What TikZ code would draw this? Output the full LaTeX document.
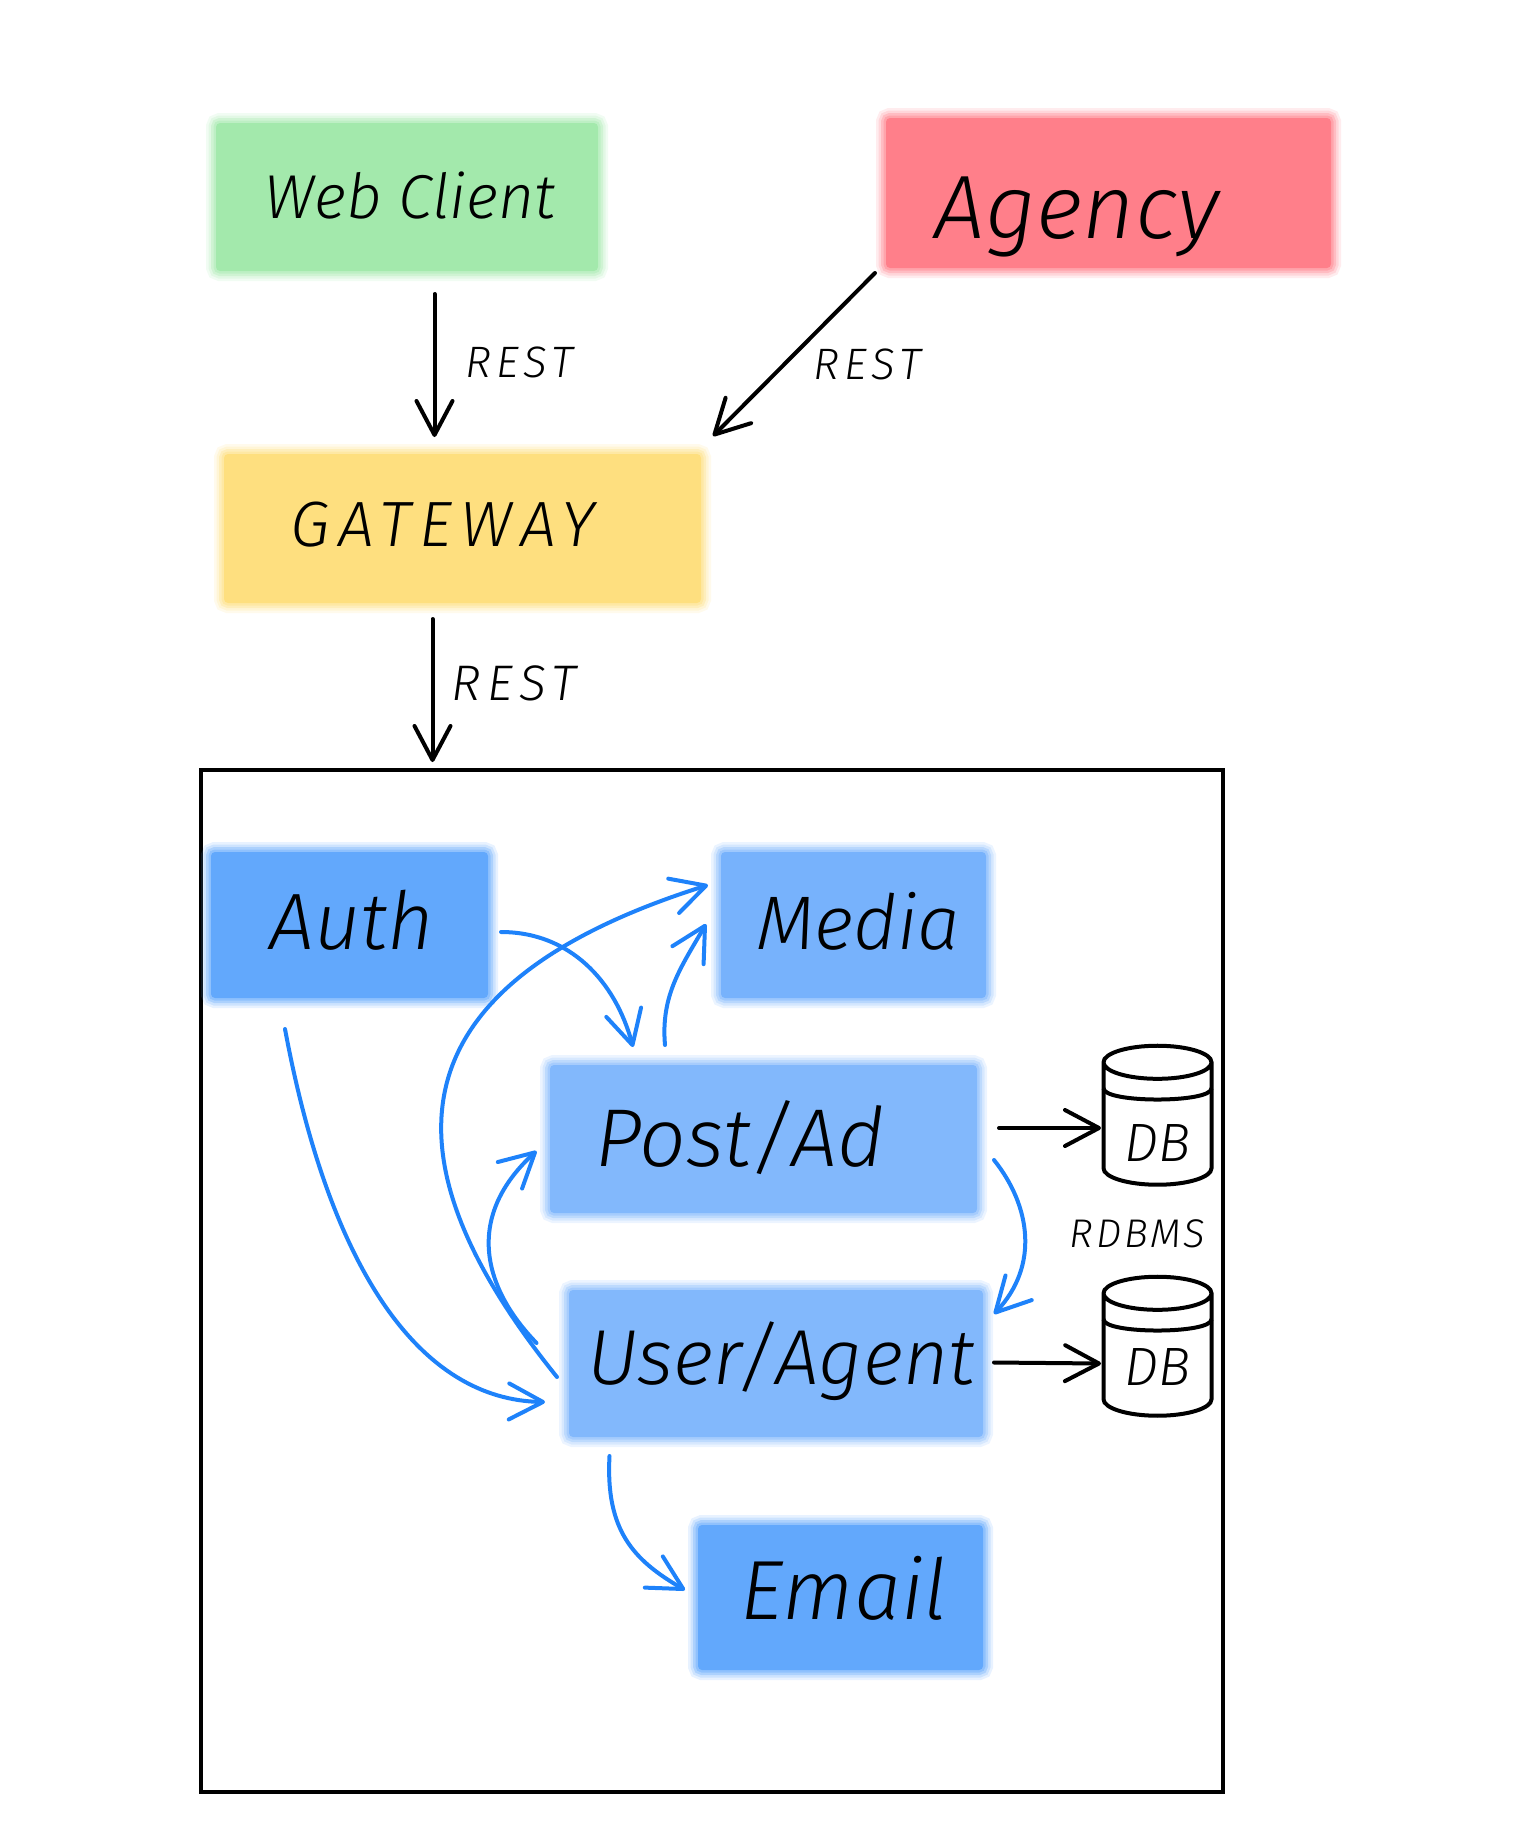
\documentclass[tikz,border=0pt]{standalone}
\usepackage{fontspec}
\setmainfont{Fira Sans Light}[ItalicFont={Fira Sans Light Italic}]
\usetikzlibrary{positioning}
\usetikzlibrary{arrows.meta}
\usetikzlibrary{calc}
\usetikzlibrary{shapes.geometric}
\definecolor{linkblue}{HTML}{1E82FA}
\definecolor{clientgreen}{HTML}{A3E9AC}
\definecolor{agencyred}{HTML}{FF7F8A}
\definecolor{gateyellow}{HTML}{FEDF7F}
\definecolor{svcdark}{HTML}{62A8FC}
\definecolor{svcmid}{HTML}{77B2FC}
\definecolor{svclight}{HTML}{82B8FC}
% kern on the right, baseline below the centre, text
\newcommand{\boxtext}[3]{\raisebox{#2pt}[0pt][0pt]{#3\kern#1pt}}
\newcommand{\wide}[2]{{\addfontfeature{LetterSpace=#1}#2}}
\begin{document}
\begin{tikzpicture}[x=1pt,y=1pt,
	hand/.style={font=\fontsize{#1pt}{#1pt}\selectfont\itshape, inner sep=0pt, outer sep=0pt},
	box/.style n args={4}{rectangle, rounded corners=4pt, hand=#4, fill=#1, minimum width={#2pt-8pt}, minimum height={#3pt-8pt}, outer sep=4pt,
		preaction={draw=#1, draw opacity=.15, line width=20pt},
		preaction={draw=#1, draw opacity=.2, line width=15pt},
		preaction={draw=#1, draw opacity=.3, line width=10pt},
		preaction={draw=#1, draw opacity=.4, line width=5pt}},
	dbstore/.style={cylinder, shape border rotate=90, aspect=.5, draw=black, line width=4pt, minimum width=108pt, minimum height=139pt, hand=54, outer sep=0pt},
	black link/.style={line width=4pt, line cap=round, -{Straight Barb[length=34pt,width=36pt,round]}},
	blue link/.style={black link, draw=linkblue}]
	\useasboundingbox (0,0) rectangle (1536,-1834);

	\node[box={clientgreen}{390}{156}{62}] (web) at (407,-197) {\boxtext{-6}{-21}{Web Client}};
	\node[box={agencyred}{453}{158}{90}] (agency) [right=280pt of web, yshift=4pt] {\boxtext{63}{-45}{Agency}};
	\node[box={gateyellow}{485}{157}{64}] (gateway) [below=175pt of web, xshift=55.5pt] {\boxtext{39}{-18}{\wide{13}{GATEWAY}}};
	\node[draw=black, line width=4pt, minimum width=1022pt, minimum height=1022pt, outer sep=0pt] (frame) [below=163pt of gateway, xshift=249.5pt] {};
	\node[box={svcdark}{285}{154}{80}] (auth) [below right=78pt and 6pt of frame.north west] {\boxtext{-5}{-24}{Auth}};
	\node[box={svcmid}{273}{154}{76}] (media) [right=225pt of auth] {\boxtext{-9}{-24}{Media}};
	\node[box={svclight}{435}{156}{82}] (post) [below=59pt of media, xshift=-90pt] {\boxtext{47}{-27}{Post/Ad}};
	\node[box={svclight}{422}{155}{78}] (user) [below=69pt of post, xshift=12.5pt] {\boxtext{-10}{-21}{User/Agent}};
	\node[box={svcdark}{293}{153}{84}] (email) [below=80pt of user, xshift=64.5pt] {\boxtext{-7}{-22}{Email}};
	\node[dbstore] (dbpost) [right=122.5pt of post, yshift=14.5pt] {\boxtext{0}{-37}{DB}};
	\node[dbstore] (dbuser) [below=92pt of dbpost] {\boxtext{0}{-30}{DB}};
	\node[hand=40] (rdbms) [below=35pt of dbpost, xshift=-20pt] {\wide{7}{RDBMS}};
	\node[hand=44] (restweb) [below=72pt of web, xshift=112pt] {\wide{12}{REST}};
	\node[hand=44] (restagency) [below=77pt of agency, xshift=-241pt] {\wide{12}{REST}};
	\node[hand=50] (restgateway) [below=59pt of gateway, xshift=51.5pt] {\wide{13}{REST}};

	\draw[line width=4pt] ($(dbpost.before top)+(0,-26)$) .. controls +(0,-15) and +(0,-15) .. ($(dbpost.after top)+(0,-26)$);
	\draw[line width=4pt] ($(dbuser.before top)+(0,-26)$) .. controls +(0,-15) and +(0,-15) .. ($(dbuser.after top)+(0,-26)$);

	\draw[black link] ($(web.south)+(27.5,-19)$) -- ($(gateway.north)+(-28,13)$);
	\draw[black link] ($(agency.south west)+(-7,-1)$) -- ($(gateway.north east)+(8,14)$);
	\draw[black link] ($(gateway.south)+(-30,-12)$) -- ($(frame.north)+(-279.5,8)$);
	\draw[black link] ($(post.east)+(18,11)$) -- ($(dbpost.west)+(-2.5,-3.5)$);
	\draw[black link] ($(user.east)+(7,1)$) -- ($(dbuser.west)+(-2.5,-8)$);

	\draw[blue link] ($(auth.east)+(9,-7)$) to[out=0,in=105] ($(post.north)+(-130.5,14)$);
	\draw[blue link] ($(post.north)+(-98.5,16)$) to[out=95,in=240] ($(media.west)+(-11,1)$);
	\draw[blue link] ($(user.west)+(-8,-13.5)$) .. controls +(-167,207) and +(-333,-105) .. ($(media.west)+(-9,40)$);
	\draw[blue link] ($(user.west)+(-28.5,20.5)$) .. controls +(-56,58) and +(-70,-64) .. ($(post.west)+(-9.5,-12)$);
	\draw[blue link] ($(auth.south)+(-64.5,-27)$) .. controls +(45,-241) and +(-125,2) .. ($(user.west)+(-20,-38.5)$);
	\draw[blue link] ($(post.east)+(13,-21)$) .. controls +(36,-45) and +(46,49) .. ($(user.east)+(7,49.5)$);
	\draw[blue link] ($(user.south)+(-166.5,-15)$) .. controls +(-4,-74) and +(-52,30) .. ($(email.west)+(-9,7.5)$);
\end{tikzpicture}
\end{document}
